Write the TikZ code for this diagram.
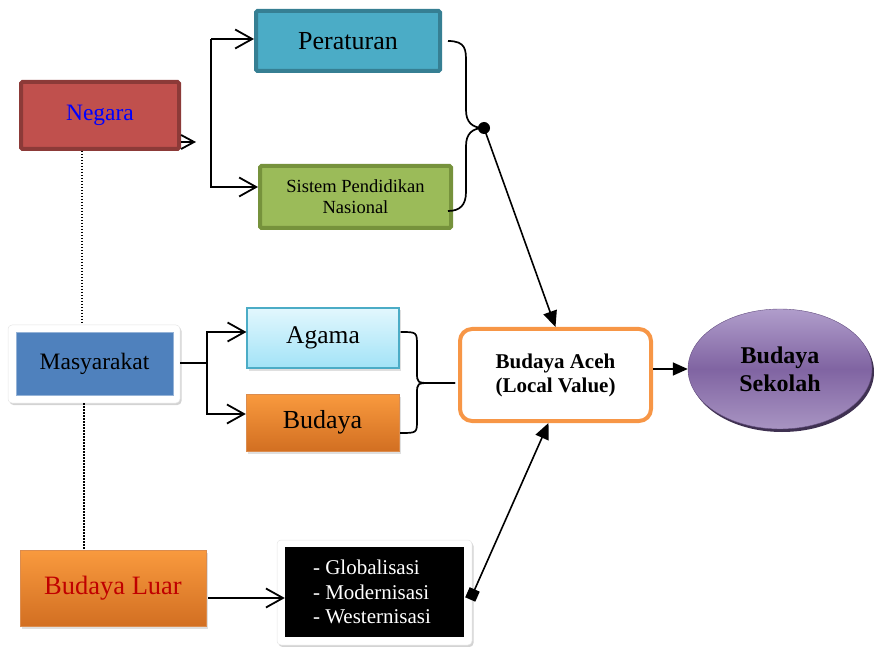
\documentclass[tikz,border=0pt]{standalone}
\usepackage{fontspec}
\setmainfont{Liberation Serif}
\usetikzlibrary{arrows.meta,shadows,shapes.geometric}
\definecolor{negfill}{HTML}{C0504D}
\definecolor{negborder}{HTML}{8C3A38}
\definecolor{perfill}{HTML}{4BACC6}
\definecolor{perborder}{HTML}{367F93}
\definecolor{sisfill}{HTML}{9BBB59}
\definecolor{sisborder}{HTML}{76923C}
\definecolor{masyfill}{HTML}{4F81BD}
\definecolor{masyline}{HTML}{95B3D7}
\definecolor{agtop}{HTML}{E2F7FD}
\definecolor{agbot}{HTML}{A2E3F7}
\definecolor{ortop}{HTML}{F99A3E}
\definecolor{orbot}{HTML}{D26F22}
\definecolor{acehor}{HTML}{F79646}
\definecolor{sekmid}{HTML}{8064A2}
\definecolor{sektop}{HTML}{B09DCB}
\definecolor{sekbot}{HTML}{A894C2}
\definecolor{sekshadow}{HTML}{3F3151}
\definecolor{luartext}{HTML}{C00000}
\begin{document}
\begin{tikzpicture}[x=1pt,y=-1pt,
  box/.style={draw, rectangle, rounded corners=1.5pt, line width=4pt, inner sep=0pt, align=center},
  whitebox/.style={draw=black!10, line width=0.5pt, fill=white, rectangle, rounded corners=4pt, inner sep=0pt,
     drop shadow={opacity=0.35, shadow xshift=1.5pt, shadow yshift=-2pt}},
  softshadow/.style={drop shadow={opacity=0.25, shadow xshift=1.5pt, shadow yshift=-2.5pt}},
  openarr/.style={line width=1.8pt, -{Straight Barb[length=17pt,width=19pt,line width=1.8pt]}},
  smallarr/.style={line width=1.8pt, -{Straight Barb[length=13pt,width=14pt,line width=1.8pt]}},
  filledarr/.style={line width=1.6pt, -{Triangle[length=16pt,width=14pt]}},
  bracepath/.style={line width=1.7pt},
  dotline/.style={line width=1.3pt, dash pattern=on 1.3pt off 1.7pt}
]
\useasboundingbox (0,0) rectangle (879,647);

% nodes
\node[box, draw=negborder, fill=negfill, minimum width=158pt, minimum height=67pt,
  text=blue, font=\fontsize{23.5}{26}\selectfont] (negara) at (100,115.5) {\raisebox{5pt}{Negara}};
\node[box, draw=perborder, fill=perfill, minimum width=184pt, minimum height=60pt,
  font=\fontsize{26}{28}\selectfont] (peraturan) at (348,41) {Peraturan};
\node[box, draw=sisborder, fill=sisfill, minimum width=191pt, minimum height=62pt,
  font=\fontsize{18.5}{21}\selectfont] (sistem) at (355.5,197) {Sistem Pendidikan\\Nasional};

\node[whitebox, minimum width=172pt, minimum height=78pt] (masyout) at (94,364) {};
\node[rectangle, fill=masyfill, draw=masyline, line width=0.6pt, minimum width=157pt, minimum height=63pt,
  inner sep=0pt, font=\fontsize{23.5}{26}\selectfont] (masy) at (94.5,363.5) {\raisebox{5pt}{Masyarakat}};

\node[rectangle, top color=agtop, bottom color=agbot, draw=perfill, line width=1.2pt, inner sep=0pt,
  minimum width=152pt, minimum height=60pt, softshadow, font=\fontsize{25.5}{28}\selectfont] (agama) at (323,338) {Agama};
\node[rectangle, top color=ortop, bottom color=orbot, draw=orbot!80, line width=0.4pt, inner sep=0pt,
  minimum width=153pt, minimum height=57pt, softshadow, font=\fontsize{26}{28}\selectfont] (budaya) at (322.5,422.5) {Budaya};

\node[draw=acehor, fill=white, line width=4pt, rounded corners=12pt, minimum width=191pt, minimum height=92pt,
  inner sep=0pt, align=center, font=\bfseries\fontsize{21}{24}\selectfont] (aceh) at (555.5,375) {Budaya Aceh\\(Local Value)};

\node[ellipse, minimum width=184pt, minimum height=120pt, inner sep=0pt, draw=sekmid!80!black, line width=0.4pt,
  top color=sektop, bottom color=sekbot, middle color=sekmid,
  drop shadow={fill=sekshadow, opacity=1, shadow xshift=2pt, shadow yshift=-3pt},
  align=center, font=\bfseries\fontsize{24}{28}\selectfont] (sekolah) at (780,369) {Budaya\\Sekolah};

\node[rectangle, top color=ortop, bottom color=orbot, draw=orbot!80, line width=0.4pt, inner sep=0pt,
  minimum width=186pt, minimum height=76pt, softshadow, text=luartext,
  font=\fontsize{26.5}{28}\selectfont] (luar) at (113,588) {Budaya Luar};

\node[whitebox, minimum width=195pt, minimum height=105pt] (globout) at (374.5,592.5) {};
\node[rectangle, fill=black, text=white, minimum width=179pt, minimum height=90pt, inner sep=0pt,
  align=left, font=\fontsize{21}{24.5}\selectfont] (glob) at (374.5,592) {\hspace*{-5pt}- Globalisasi\\\hspace*{-5pt}- Modernisasi\\\hspace*{-5pt}- Westernisasi};

\node[circle, fill=black, minimum size=12pt, inner sep=0pt] (dot) at (484,128) {};

% dotted links
\draw[dotline] ([xshift=-18pt]negara.south) -- ([xshift=-18pt]negara.south |- masyout.north);
\draw[dotline] ([xshift=-10pt]masyout.south) -- ([xshift=-10pt]masyout.south |- luar.north);

% Negara connectors
\coordinate (negtip) at (196,142);
\draw[smallarr] (negara.east |- negtip) -- (negtip);
\coordinate (brtop) at (211,39);
\coordinate (brbot) at (211,187);
\draw[openarr] (brtop) -- (peraturan.west |- brtop);
\draw[openarr] (brtop) -- (brbot) -- (sistem.west |- brbot);

% top brace
\draw[bracepath] ([xshift=6pt]peraturan.east) .. controls (466,41) and (466,50) .. (466,62) -- (466,110)
   .. controls (466,122) and (472,128) .. (dot.center);
\draw[bracepath] (dot.center) .. controls (472,128) and (466,134) .. (466,146) -- (466,192)
   .. controls (466,205) and (460,211) .. ([xshift=-5pt,yshift=-14pt]sistem.east);
\draw[filledarr] (dot.center) -- (aceh.north);

% Masyarakat connectors
\coordinate (mj) at (207,363);
\coordinate (mtop) at (207,332);
\coordinate (mbot) at (207,414);
\draw[line width=1.8pt] (masyout.east |- mj) -- (mj);
\draw[openarr] (mj) -- (mtop) -- (agama.west |- mtop);
\draw[openarr] (mj) -- (mbot) -- (budaya.west |- mbot);

% middle brace
\coordinate (btip) at ([xshift=-3pt,yshift=-8pt]aceh.west);
\draw[bracepath] ([xshift=1pt,yshift=6pt]agama.east) .. controls (417,332) .. (417,346) -- (417,372)
   .. controls (417,383) .. (432,383) -- (btip);
\draw[bracepath] (btip) -- (432,383) .. controls (417,383) .. (417,394) -- (417,420)
   .. controls (417,433) .. ([xshift=1pt,yshift=-10.5pt]budaya.east);

% to Budaya Sekolah
\draw[line width=1.6pt, -{Triangle[length=15pt,width=13pt]}] (sekolah.west -| aceh.east) -- (sekolah.west);

% Budaya Luar connectors
\coordinate (la) at ([xshift=2pt,yshift=-10pt]luar.east);
\draw[openarr] (la) -- (la -| glob.west);
\draw[line width=1.6pt, {Square[length=11pt,width=11pt]}-{Triangle[length=16pt,width=14pt]}]
  ([xshift=-2pt,yshift=-7pt]globout.east) -- ([xshift=-7pt]aceh.south);
\end{tikzpicture}
\end{document}
